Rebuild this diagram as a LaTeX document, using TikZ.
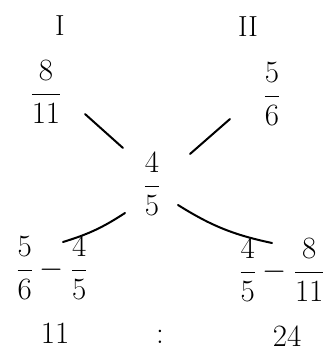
\RequirePackage{fix-cm}
\documentclass[tikz,border=0pt]{standalone}
\usepackage{amsmath}
\usetikzlibrary{positioning}

\begin{document}
\begin{tikzpicture}[
    x=1pt, y=-1pt,
    num/.style={inner sep=1pt, font=\fontsize{31}{36}\selectfont},
    lbl/.style={inner sep=1pt, font=\fontsize{29}{34}\selectfont},
    stroke/.style={line width=2pt, line cap=round}
]
\useasboundingbox (0,0) rectangle (331,356);

\node[lbl] (one) at (60,26) {I};
\node[lbl] (two) at (248,27) {II};

\node[num] (first) at (46,92) {$\dfrac{8}{11}$};
\node[num] (second) at (272,94) {$\dfrac{5}{6}$};
\node[num] (mean) at (152,184) {$\dfrac{4}{5}$};

\node[num] (diffL) at (52,268) {$\dfrac{5}{6}-\dfrac{4}{5}$};
\node[num] (diffR) at (282,270) {$\dfrac{4}{5}-\dfrac{8}{11}$};

\node[num] (ratioL) at (55,333) {11};
\node[num] (colon) at (160,337) {:};
\node[num] (ratioR) at (287,336) {24};

\draw[stroke] ([xshift=39pt,yshift=-22pt]first.center) -- ([xshift=-29pt,yshift=36pt]mean.center);
\draw[stroke] ([xshift=-42pt,yshift=-25pt]second.center) -- ([xshift=38pt,yshift=30pt]mean.center);
\draw[stroke] ([xshift=-27pt,yshift=-29pt]mean.center) to[bend left=8] ([xshift=11pt,yshift=26pt]diffL.center);
\draw[stroke] ([xshift=26pt,yshift=-21pt]mean.center) to[bend right=10] ([xshift=-10pt,yshift=27pt]diffR.center);
\end{tikzpicture}
\end{document}
